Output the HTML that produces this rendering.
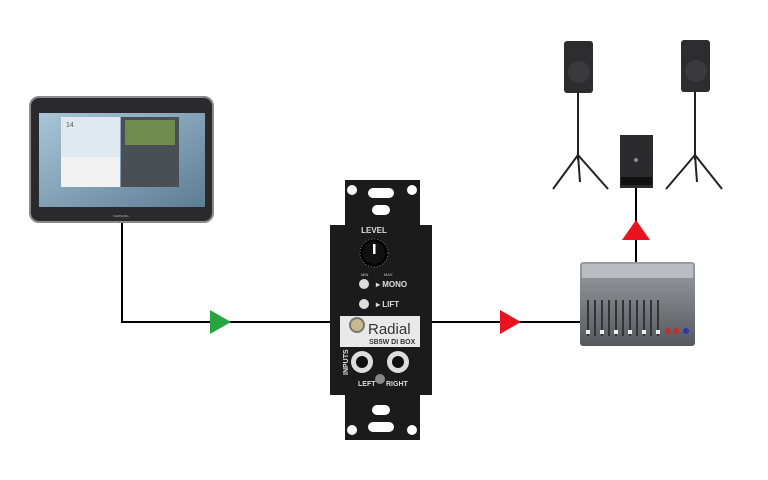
<!DOCTYPE html>
<html><head><meta charset="utf-8"><style>html,body{margin:0;padding:0;background:#fff;}svg{display:block}</style></head>
<body>
<svg width="768" height="480" viewBox="0 0 768 480" xmlns="http://www.w3.org/2000/svg" font-family="Liberation Sans, sans-serif">
<defs>
<linearGradient id="scr" x1="0" y1="0" x2="1" y2="1"><stop offset="0" stop-color="#a9c6d8"/><stop offset="1" stop-color="#5d7d95"/></linearGradient>
<linearGradient id="mix" x1="0" y1="0" x2="0" y2="1"><stop offset="0" stop-color="#9a9ea3"/><stop offset="1" stop-color="#55595e"/></linearGradient>
</defs>
<!-- connectors -->
<polyline points="122,222 122,322 335,322" fill="none" stroke="#000" stroke-width="2"/>
<line x1="430" y1="322" x2="582" y2="322" stroke="#000" stroke-width="2"/>
<line x1="636" y1="262" x2="636" y2="188" stroke="#000" stroke-width="2"/>
<polygon points="210,310 231,322 210,334" fill="#27a33f"/>
<polygon points="500,310 521,322 500,334" fill="#e8131e"/>
<polygon points="622,240 636,220 650,240" fill="#e8131e"/>
<!-- tablet -->
<rect x="30" y="97" width="183" height="125" rx="9" fill="#2a2a2c" stroke="#8a8a8c" stroke-width="2"/>
<rect x="39" y="113" width="166" height="94" fill="url(#scr)"/>
<rect x="61" y="117" width="59" height="40" fill="#dfe9ef"/>
<rect x="121" y="117" width="58" height="70" fill="#4a4e55"/>
<rect x="125" y="120" width="50" height="25" fill="#6f8b4e"/>
<rect x="61" y="157" width="59" height="30" fill="#f2f2f2"/>
<text x="66" y="127" font-size="7" fill="#555">14</text>
<text x="121" y="217" font-size="3" fill="#bbb" text-anchor="middle">SAMSUNG</text>
<!-- DI box -->
<path d="M345,180 H420 V225 H432 V395 H420 V440 H345 V395 H330 V225 H345 Z" fill="#1b1b1b"/>
<rect x="368" y="188" width="26" height="10" rx="5" fill="#fff"/>
<rect x="372" y="205" width="18" height="10" rx="5" fill="#fff"/>
<rect x="368" y="422" width="26" height="10" rx="5" fill="#fff"/>
<rect x="372" y="405" width="18" height="10" rx="5" fill="#fff"/>
<circle cx="352" cy="190" r="5" fill="#fff"/><circle cx="412" cy="190" r="5" fill="#fff"/>
<circle cx="352" cy="430" r="5" fill="#fff"/><circle cx="412" cy="430" r="5" fill="#fff"/>
<text x="374" y="233" font-size="8" font-weight="bold" fill="#ddd" text-anchor="middle">LEVEL</text>
<circle cx="374" cy="253" r="14" fill="#000" stroke="#777" stroke-width="1" stroke-dasharray="1 2"/>
<circle cx="374" cy="253" r="11" fill="#111"/>
<rect x="373" y="244" width="2.5" height="10" fill="#fff"/>
<text x="361" y="276" font-size="4" fill="#ccc">MIN</text><text x="384" y="276" font-size="4" fill="#ccc">MAX</text>
<circle cx="364" cy="284" r="5" fill="#ddd"/><text x="376" y="287" font-size="8" font-weight="bold" fill="#ddd">▸ MONO</text>
<circle cx="364" cy="304" r="5" fill="#ddd"/><text x="376" y="307" font-size="8" font-weight="bold" fill="#ddd">▸ LIFT</text>
<rect x="340" y="316" width="80" height="31" fill="#e9e9e9"/>
<circle cx="357" cy="325" r="7" fill="#c9b98f" stroke="#777" stroke-width="2"/>
<text x="368" y="334" font-size="15" fill="#333">Radial</text>
<text x="369" y="344" font-size="7" font-weight="bold" fill="#333">SB5W DI BOX</text>
<circle cx="362" cy="362" r="11" fill="#ddd"/><circle cx="362" cy="362" r="6" fill="#111"/>
<circle cx="398" cy="362" r="11" fill="#ddd"/><circle cx="398" cy="362" r="6" fill="#111"/>
<circle cx="380" cy="379" r="5" fill="#888"/>
<text x="348" y="375" font-size="7" font-weight="bold" fill="#ddd" transform="rotate(-90 348 375)">INPUTS</text>
<text x="358" y="386" font-size="7" font-weight="bold" fill="#ddd">LEFT</text>
<text x="386" y="386" font-size="7" font-weight="bold" fill="#ddd">RIGHT</text>
<!-- mixer -->
<rect x="580" y="262" width="115" height="84" rx="3" fill="url(#mix)"/>
<rect x="582" y="264" width="111" height="14" fill="#b9bcc0"/>
<g fill="#333">
<rect x="587" y="300" width="2" height="36"/><rect x="594" y="300" width="2" height="36"/><rect x="601" y="300" width="2" height="36"/><rect x="608" y="300" width="2" height="36"/><rect x="615" y="300" width="2" height="36"/><rect x="622" y="300" width="2" height="36"/><rect x="629" y="300" width="2" height="36"/><rect x="636" y="300" width="2" height="36"/><rect x="643" y="300" width="2" height="36"/><rect x="650" y="300" width="2" height="36"/><rect x="657" y="300" width="2" height="36"/>
</g>
<g fill="#eee"><rect x="586" y="330" width="4" height="4"/><rect x="600" y="330" width="4" height="4"/><rect x="614" y="330" width="4" height="4"/><rect x="628" y="330" width="4" height="4"/><rect x="642" y="330" width="4" height="4"/><rect x="656" y="330" width="4" height="4"/></g>
<circle cx="668" cy="331" r="3" fill="#b33"/><circle cx="676" cy="331" r="3" fill="#b33"/><circle cx="686" cy="331" r="3" fill="#33a"/>
<!-- subwoofer -->
<rect x="620" y="135" width="33" height="53" fill="#2b2b2d"/>
<rect x="621" y="177" width="31" height="8" fill="#111"/>
<circle cx="636" cy="160" r="2" fill="#88a"/>
<!-- speakers -->
<g stroke="#222" stroke-width="2" fill="none">
<line x1="578" y1="92" x2="578" y2="160"/><line x1="578" y1="155" x2="553" y2="189"/><line x1="578" y1="155" x2="608" y2="189"/><line x1="578" y1="155" x2="580" y2="182"/>
<line x1="695" y1="92" x2="695" y2="160"/><line x1="695" y1="155" x2="666" y2="189"/><line x1="695" y1="155" x2="722" y2="189"/><line x1="695" y1="155" x2="697" y2="182"/>
</g>
<rect x="564" y="41" width="29" height="52" rx="3" fill="#2d2d2f"/>
<circle cx="579" cy="72" r="11" fill="#3a3a3c"/>
<rect x="681" y="40" width="29" height="52" rx="3" fill="#2d2d2f"/>
<circle cx="696" cy="71" r="11" fill="#3a3a3c"/>
</svg>
</body></html>
